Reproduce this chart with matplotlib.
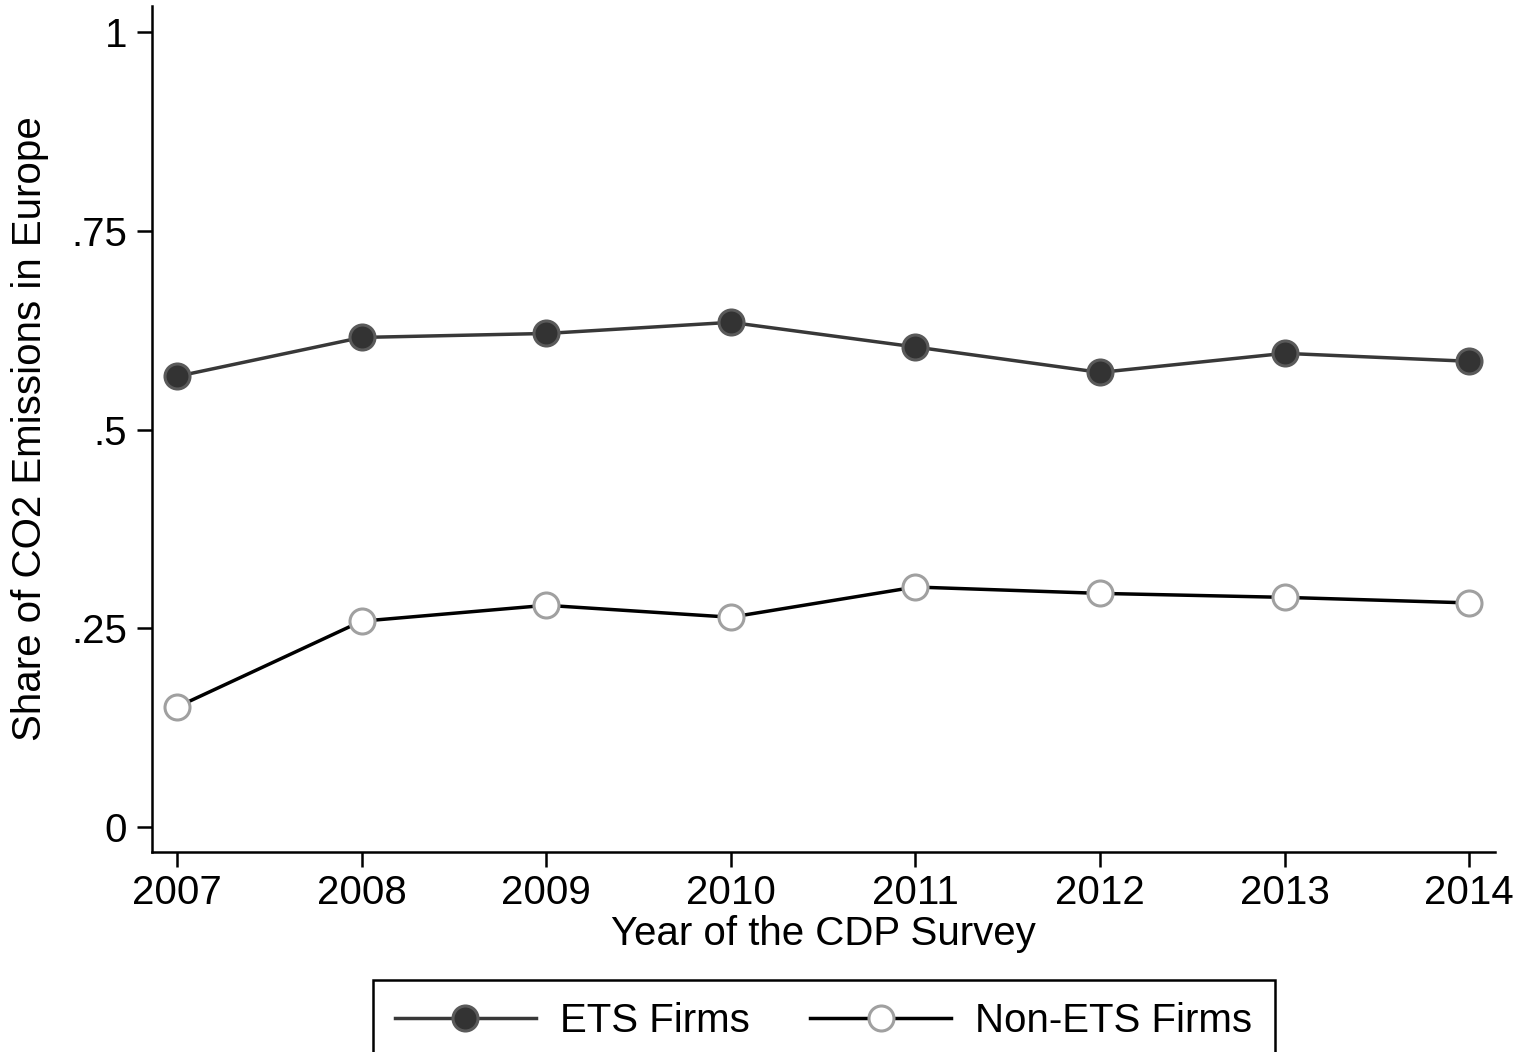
import matplotlib
matplotlib.use("Agg")
import matplotlib.pyplot as plt

years = [2007, 2008, 2009, 2010, 2011, 2012, 2013, 2014]
ets = [0.567, 0.616, 0.621, 0.635, 0.604, 0.572, 0.596, 0.586]
non_ets = [0.151, 0.259, 0.279, 0.264, 0.302, 0.294, 0.289, 0.282]
ytick_vals = [0, 0.25, 0.5, 0.75, 1]
ytick_labels = ["0", ".25", ".5", ".75", "1"]

plt.rcParams['font.family'] = ['Liberation Sans', 'DejaVu Sans']

fig = plt.figure(figsize=(15.26, 10.52), dpi=100)
ax = fig.add_axes([0.0996, 0.1901, 0.8801, 0.8042])

ax.plot(years, ets, color='#383838', lw=2.5, marker='o', ms=18,
        mfc='#333333', mec='#5a5a5a', mew=2.2, label='ETS Firms', zorder=3)
ax.plot(years, non_ets, color='black', lw=2.5, marker='o', ms=18,
        mfc='white', mec='#a0a0a0', mew=2.2, label='Non-ETS Firms', zorder=3)

ax.set_xlim(2006.865, 2014.14)
ax.set_ylim(-0.0314, 1.033)
ax.set_xticks(years)
ax.set_xticklabels([str(y) for y in years], fontsize=29)
ax.set_yticks(ytick_vals)
ax.set_yticklabels(ytick_labels, fontsize=29)
ax.tick_params(axis='both', length=11, width=1.8, color='black')
ax.tick_params(axis='y', pad=7)
ax.tick_params(axis='x', pad=5)

for s in ['top', 'right']:
    ax.spines[s].set_visible(False)
for s in ['left', 'bottom']:
    ax.spines[s].set_linewidth(1.8)

ax.set_xlabel("Year of the CDP Survey", fontsize=29, labelpad=2)
ax.set_ylabel("Share of CO2 Emissions in Europe", fontsize=29, labelpad=16)

leg = fig.legend(loc='upper center', bbox_to_anchor=(0.5397, 1 - 980 / 1052),
                 ncol=2, fontsize=29, frameon=True, fancybox=False,
                 handlelength=3.5, handletextpad=0.6, columnspacing=1.5,
                 borderpad=0.55, borderaxespad=0.0)
frame = leg.get_frame()
frame.set_linewidth(1.8)
frame.set_edgecolor('black')
frame.set_alpha(1.0)

fig.savefig("out.png", dpi=100)
